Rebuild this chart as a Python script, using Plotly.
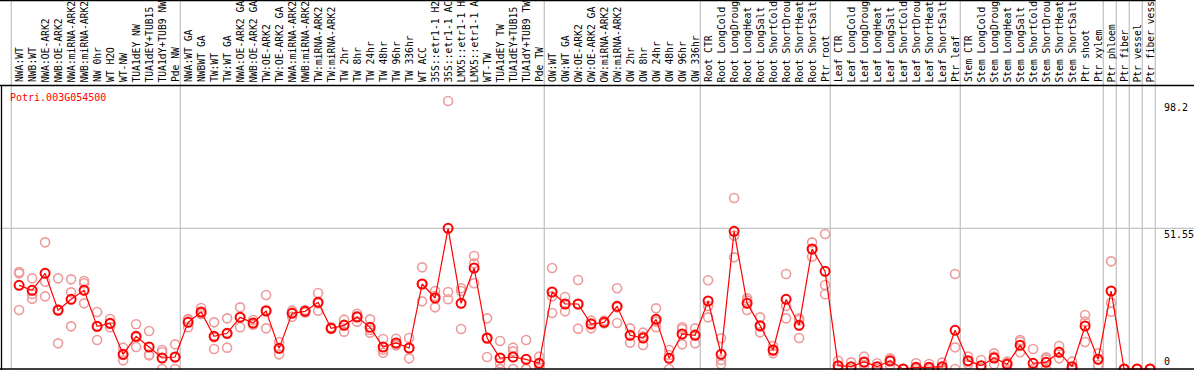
import plotly.graph_objects as go

# ---------------- data ----------------
gene = "Potri.003G054500"

# column labels as far as they are visible in the header band
labels = ["NWA:WT", "NWB:WT", "NWA:OE-ARK2", "NWB:OE-ARK2", "NWA:miRNA-ARK2", "NWB:miRNA-ARK2",
          "NW 0hr", "WT H2O", "WT-NW", "TUA1dEY NW", "TUA1dEY+TUB15", "TUA1dY+TUB9 NW", "Pde NW",
          "NWA:WT GA", "NWBWT GA", "TW:WT", "TW:WT GA", "NWA:OE-ARK2 GA", "NWB:OE-ARK2 GA",
          "TW:OE-ARK2", "TW:OE-ARK2 GA", "NWA:miRNA-ARK2", "NWB:miRNA-ARK2", "TW:miRNA-ARK2",
          "TW:miRNA-ARK2", "TW 2hr", "TW 8hr", "TW 24hr", "TW 48hr", "TW 96hr", "TW 336hr", "WT ACC",
          "35S::etr1-1 H2", "35S::etr1-1 AC", "LMX5::etr1-1 H", "LMX5::etr1-1 A", "WT-TW",
          "TUA1dEY TW", "TUA1dEY+TUB15", "TUA1dY+TUB9 TW", "Pde TW",
          "OW:WT", "OW:WT GA", "OW:OE-ARK2", "OW:OE-ARK2 GA", "OW:miRNA-ARK2", "OW:miRNA-ARK2",
          "OW 2hr", "OW 8hr", "OW 24hr", "OW 48hr", "OW 96hr", "OW 336hr",
          "Root CTR", "Root LongCold", "Root LongDroug", "Root LongHeat", "Root LongSalt",
          "Root ShortCold", "Root ShortDrou", "Root ShortHeat", "Root ShortSalt", "Ptr root",
          "Leaf CTR", "Leaf LongCold", "Leaf LongDroug", "Leaf LongHeat", "Leaf LongSalt",
          "Leaf ShortCold", "Leaf ShortDrou", "Leaf ShortHeat", "Leaf ShortSalt", "Ptr leaf",
          "Stem CTR", "Stem LongCold", "Stem LongDroug", "Stem LongHeat", "Stem LongSalt",
          "Stem ShortCold", "Stem ShortDrou", "Stem ShortHeat", "Stem ShortSalt", "Ptr shoot",
          "Ptr xylem", "Ptr phloem", "Ptr fiber", "Ptr vessel", "Ptr fiber vess"]

group_sizes = [13, 28, 12, 10, 10, 11, 1, 1, 1, 1]

mean_values = [30.65, 28.82, 35.05, 21.5, 25.53, 28.82, 15.63, 16.73, 5.37, 11.97, 8.06, 4.03, 4.40,
               17.10, 20.88, 11.97, 13.07, 18.93, 16.85, 21.25, 7.57, 20.40, 21.13, 24.43, 14.90, 16.0,
               19.05, 15.27, 8.06, 9.53, 7.69, 31.14, 26.01, 51.55, 24.06, 37.0, 11.36, 4.03, 4.40,
               3.54, 2.08,
               28.21, 23.82, 23.82, 16.49, 17.10, 22.96, 12.34, 11.36, 18.2, 3.91, 12.82, 12.34,
               24.91, 5.37, 50.44, 24.06, 15.88, 6.96, 25.53, 16.0, 43.97, 35.78,
               1.22, 0.85, 2.56, 0.85, 2.93, 0, 0.61, 0.61, 0.85, 14.17,
               3.05, 1.22, 4.03, 1.71, 8.67, 2.08, 2.44, 6.11, 0.85, 15.75, 3.54,
               28.58, 0, 0, 0]

replicate_a = [35.54, 33.22, 46.41, 33.22, 32.85, 32.24, 20.88, 18.32, 7.82, 16.37, 13.92, 6.96, 9.04,
               18.32, 22.35, 17.1, 18.56, 22.59, 17.95, 27.11, 9.89, 21.37, 21.62, 27.85, 15.27, 18.08,
               20.27, 18.20, 10.99, 11.11, 11.36, 37.25, 28.58, 98.2, 29.56, 41.4, 18.56, 10.26, 7.82,
               10.63, 4.52,
               37.0, 26.38, 32.6, 17.71, 17.71, 29.56, 14.9, 13.31, 22.23, 6.96, 15.27, 14.9,
               32.49, 11.24, 62.65, 25.89, 18.93, 8.43, 34.81, 18.56, 46.41, 49.46,
               3.05, 2.44, 4.52, 2.08, 3.91, 0, 2.08, 1.83, 2.32, 34.81,
               4.52, 3.30, 5.74, 2.69, 10.63, 7.33, 4.27, 8.43, 2.69, 19.78, 5.74,
               39.45, 0, 0, 0]

replicate_b = [35.05, 27.48, 32.0, 21.86, 28.09, 31.39, 15.51, 16.49, 5.13, 11.6, 5.25, 6.11, 4.27,
               17.95, 20.40, 11.6, 12.82, 18.93, 16.49, 21.62, 7.45, 20.64, 20.88, 24.06, 14.9, 16.24,
               19.42, 14.29, 7.08, 8.79, 7.69, 31.14, 26.74, 28.21, 28.58, 38.7, 11.11, 2.08, 6.47,
               0, 0.6,
               26.62, 23.82, 23.69, 16.73, 16.73, 22.59, 12.34, 11.97, 17.34, 5.13, 14.66, 12.70,
               23.08, 3.30, 48.85, 25.04, 15.51, 6.6, 23.08, 17.95, 43.84, 30.78,
               0.85, 0, 2.32, 0.1, 3.3, 0, 0, 0, 0.2, 7.94,
               2.69, 0.24, 4.52, 2.32, 10.01, 0, 3.54, 6.35, 0, 17.34, 3.54,
               24.3, 0, 0, 0]

replicate_c = [21.62, 25.77, 26.62, 9.40, 15.63, 24.06, 10.63, 15.27, 3.18, 8.06, 5.01, 0, 0,
               15.27, 20.15, 7.33, 7.82, 15.27, 16.24, 14.90, 5.37, 19.17, 20.7, 21.37, 14.66, 13.68,
               17.34, 13.31, 5.98, 8.67, 3.91, 24.79, 22.59, 25.53, 14.66, 31.39, 4.40, 0, 0,
               0, 0,
               20.52, 21.13, 14.78, 14.90, 16.9, 16.85, 9.65, 8.79, 15.27, 0, 9.04, 9.40,
               18.93, 1.71, 40.91, 21.62, 13.43, 5.74, 18.56, 11.36, 41.16, 27.36,
               0, 0, 1.22, 0, 1.47, 0, 0, 0, 0, 0,
               1.83, 0, 1.71, 0, 6.11, 0, 0, 3.91, 0, 9.89, 1.47,
               21.0, 0, 0, 0]

axis_ticks = [98.2, 51.55, 0]
axis_tick_text = ["98.2", "51.55", "0"]

# ---------------- layout helpers ----------------
W, H = 1194, 370
PX_PER_CAT = 13.0
X0_PX = 19.1            # pixel of first category marker
Y0_PX = 369.0           # pixel of value 0
PX_PER_UNIT = 140.7 / 51.55

def py(p):               # pixel row -> paper y
    return 1 - p / H

def px(p):               # pixel column -> paper x
    return p / W

n = len(labels)
xs = list(range(n))

FONT = "DejaVu Sans Mono"
RED = "#ff0000"
PINK = "#ee9a9a"
GRID = "#c4c4c4"

fig = go.Figure()

rep_x, rep_y = [], []
for reps in (replicate_a, replicate_b, replicate_c):
    rep_x += xs
    rep_y += reps

fig.add_trace(go.Scatter(x=rep_x, y=rep_y, mode="markers", cliponaxis=False,
                         marker=dict(symbol="circle-open", size=9, color=PINK,
                                     line=dict(width=1.6, color=PINK)),
                         hoverinfo="skip", showlegend=False))
fig.add_trace(go.Scatter(x=xs, y=mean_values, mode="lines+markers", cliponaxis=False,
                         line=dict(color=RED, width=1.2),
                         marker=dict(symbol="circle-open", size=9, color=RED,
                                     line=dict(width=2, color=RED)),
                         showlegend=False))

shapes = []
# group separators
bounds = [-0.6]
acc = 0
for g in group_sizes:
    acc += g
    bounds.append(acc - 1 + 0.4)
for b in bounds:
    shapes.append(dict(type="line", xref="x", yref="paper", x0=b, x1=b,
                       y0=py(Y0_PX), y1=1, line=dict(color=GRID, width=1.3), layer="below"))
# grid line at the max mean
shapes.append(dict(type="line", xref="paper", yref="y", x0=0, x1=1, y0=axis_ticks[1], y1=axis_ticks[1],
                   line=dict(color=GRID, width=1.3), layer="below"))
# frame lines
shapes.append(dict(type="line", xref="paper", yref="paper", x0=0, x1=1, y0=py(85.5), y1=py(85.5),
                   line=dict(color="black", width=1.3)))
shapes.append(dict(type="line", xref="paper", yref="y", x0=0, x1=1, y0=0, y1=0,
                   line=dict(color="black", width=1.3)))
shapes.append(dict(type="line", xref="paper", yref="paper", x0=px(1.5), x1=px(1.5), y0=py(370), y1=py(85),
                   line=dict(color="black", width=1.3)))
shapes.append(dict(type="line", xref="paper", yref="paper", x0=0, x1=px(1155.5), y0=py(0.5), y1=py(0.5),
                   line=dict(color="black", width=1.3)))

annotations = []
for i, lab in enumerate(labels):
    annotations.append(dict(text=lab, xref="x", yref="paper", x=i, y=py(83.5),
                            xanchor="center", yanchor="bottom", textangle=-90, showarrow=False,
                            font=dict(family=FONT, size=9.7, color="black"), borderpad=0))
annotations.append(dict(text=gene, xref="paper", yref="paper", x=px(8.5), y=py(97.5),
                        xanchor="left", yanchor="middle", showarrow=False,
                        font=dict(family=FONT, size=10, color=RED), borderpad=0))
for v, t in zip(axis_ticks, axis_tick_text):
    if v == 0:
        annotations.append(dict(text=t, xref="paper", yref="y", x=px(1162.5), y=v,
                                xanchor="left", yanchor="bottom", showarrow=False,
                                font=dict(family=FONT, size=10, color="black"), borderpad=0, yshift=1))
    else:
        annotations.append(dict(text=t, xref="paper", yref="y", x=px(1162.5), y=v,
                                xanchor="left", yanchor="top", showarrow=False,
                                font=dict(family=FONT, size=10, color="black"), borderpad=0))

fig.update_layout(
    width=W, height=H, margin=dict(l=0, r=0, t=0, b=0),
    paper_bgcolor="white", plot_bgcolor="white",
    xaxis=dict(visible=False, range=[-X0_PX / PX_PER_CAT, (W - X0_PX) / PX_PER_CAT], fixedrange=True),
    yaxis=dict(visible=False, range=[-(H - Y0_PX) / PX_PER_UNIT, Y0_PX / PX_PER_UNIT], fixedrange=True),
    shapes=shapes, annotations=annotations, showlegend=False,
)

fig.write_html("out.html", config={"displayModeBar": False})

# remove the browser's default page margin so the figure sits at the window origin
with open("out.html", encoding="utf-8") as fh:
    page = fh.read()
page = page.replace("<head>", "<head><style>html,body{margin:0;padding:0;overflow:hidden;}</style>", 1)
with open("out.html", "w", encoding="utf-8") as fh:
    fh.write(page)
